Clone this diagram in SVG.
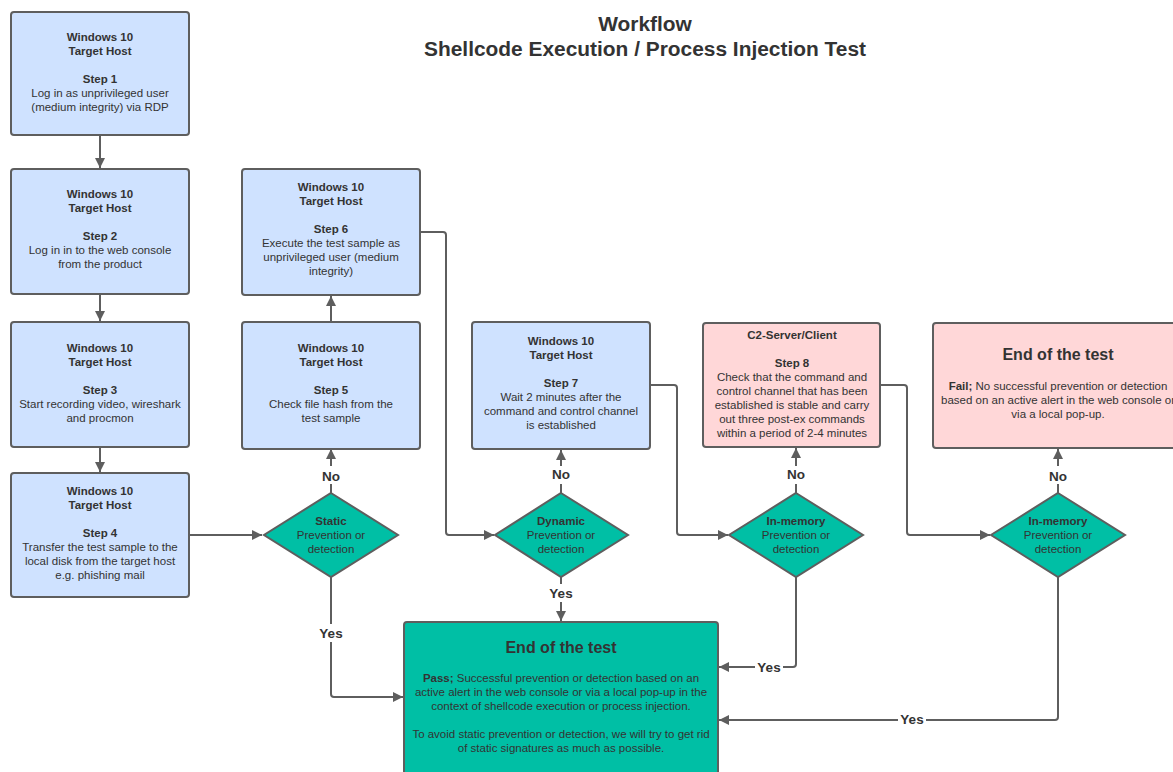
<svg xmlns="http://www.w3.org/2000/svg" width="1173" height="772" viewBox="0 0 1173 772">
<defs>
<marker id="arr" viewBox="0 0 10 10" refX="10" refY="5" markerWidth="10" markerHeight="10" markerUnits="userSpaceOnUse" orient="auto"><path d="M0,0 L10,5 L0,10 z" fill="#5e5e5e"/></marker>
<style>
text{font-family:"Liberation Sans",Arial,sans-serif;fill:#333;text-anchor:middle;font-size:11.5px}
.b{font-weight:bold}
.blue{fill:#cfe2ff;stroke:#5e5e5e;stroke-width:2}
.pink{fill:#ffd7d8;stroke:#5e5e5e;stroke-width:2}
.teal{fill:#00bfa5;stroke:#5e5e5e;stroke-width:2}
.c{fill:none;stroke:#5e5e5e;stroke-width:2;marker-end:url(#arr)}
.lbl{font-weight:bold;font-size:13.5px}
.big{font-weight:bold;font-size:16px}
.title{font-weight:bold;font-size:20.9px}
</style>
</defs>
<rect width="1173" height="772" fill="#fff"/>
<g id="title"><text class="title" x="645" y="31">Workflow</text><text class="title" x="645" y="56">Shellcode Execution / Process Injection Test</text></g>

<g id="connectors">
<path class="c" d="M100,135 V168"/>
<path class="c" d="M100,294 V321"/>
<path class="c" d="M100,447 V472"/>
<path class="c" d="M189,535 H262"/>
<path class="c" d="M331,493 V449"/>
<path class="c" d="M331,322 V296"/>
<path class="c" d="M420,232 H443 Q446,232 446,235 V532 Q446,535 449,535 H494"/>
<path class="c" d="M561,493 V450"/>
<path class="c" d="M650,385 H674 Q677,385 677,388 V532 Q677,535 680,535 H728"/>
<path class="c" d="M796,493 V448"/>
<path class="c" d="M880,385 H904 Q907,385 907,388 V532 Q907,535 910,535 H990"/>
<path class="c" d="M1058,493 V449"/>
<path class="c" d="M331,577 V694 Q331,697 334,697 H403"/>
<path class="c" d="M561,577 V621"/>
<path class="c" d="M796,577 V664 Q796,667 793,667 H719"/>
<path class="c" d="M1058,577 V717 Q1058,720 1055,720 H719"/>
<g class="labels">
<rect x="318" y="466" width="26" height="18" fill="#fff"/><text class="lbl" x="331" y="481">No</text>
<rect x="548" y="466" width="26" height="18" fill="#fff"/><text class="lbl" x="561" y="479">No</text>
<rect x="783" y="466" width="26" height="18" fill="#fff"/><text class="lbl" x="796" y="479">No</text>
<rect x="1045" y="466" width="26" height="18" fill="#fff"/><text class="lbl" x="1058" y="481">No</text>
<rect x="316" y="624" width="30" height="18" fill="#fff"/><text class="lbl" x="331" y="638">Yes</text>
<rect x="546" y="584" width="30" height="18" fill="#fff"/><text class="lbl" x="561" y="598">Yes</text>
<rect x="755" y="658" width="28" height="18" fill="#fff"/><text class="lbl" x="769" y="672">Yes</text>
<rect x="898" y="711" width="28" height="18" fill="#fff"/><text class="lbl" x="912" y="724">Yes</text>
</g>
</g>

<g id="step1"><rect class="blue" x="11" y="12" width="178" height="123" rx="3"/>
<text class="b" x="100" y="41">Windows 10</text><text class="b" x="100" y="55">Target Host</text>
<text class="b" x="100" y="83">Step 1</text><text x="100" y="97">Log in as unprivileged user</text><text x="100" y="111">(medium integrity) via RDP</text></g>

<g id="step2"><rect class="blue" x="11" y="169" width="178" height="125" rx="3"/>
<text class="b" x="100" y="198">Windows 10</text><text class="b" x="100" y="212">Target Host</text>
<text class="b" x="100" y="240">Step 2</text><text x="100" y="254">Log in in to the web console</text><text x="100" y="268">from the product</text></g>

<g id="step3"><rect class="blue" x="11" y="322" width="178" height="125" rx="3"/>
<text class="b" x="100" y="352">Windows 10</text><text class="b" x="100" y="366">Target Host</text>
<text class="b" x="100" y="394">Step 3</text><text x="100" y="408">Start recording video, wireshark</text><text x="100" y="422">and procmon</text></g>

<g id="step4"><rect class="blue" x="11" y="473" width="178" height="124" rx="3"/>
<text class="b" x="100" y="495">Windows 10</text><text class="b" x="100" y="509">Target Host</text>
<text class="b" x="100" y="537">Step 4</text><text x="100" y="551">Transfer the test sample to the</text><text x="100" y="565">local disk from the target host</text><text x="100" y="579">e.g. phishing mail</text></g>

<g id="step6"><rect class="blue" x="242" y="169" width="178" height="126" rx="3"/>
<text class="b" x="331" y="191">Windows 10</text><text class="b" x="331" y="205">Target Host</text>
<text class="b" x="331" y="233">Step 6</text><text x="331" y="247">Execute the test sample as</text><text x="331" y="261">unprivileged user (medium</text><text x="331" y="275">integrity)</text></g>

<g id="step5"><rect class="blue" x="242" y="322" width="178" height="127" rx="3"/>
<text class="b" x="331" y="352">Windows 10</text><text class="b" x="331" y="366">Target Host</text>
<text class="b" x="331" y="394">Step 5</text><text x="331" y="408">Check file hash from the</text><text x="331" y="422">test sample</text></g>

<g id="step7"><rect class="blue" x="472" y="322" width="178" height="127" rx="3"/>
<text class="b" x="561" y="345">Windows 10</text><text class="b" x="561" y="359">Target Host</text>
<text class="b" x="561" y="387">Step 7</text><text x="561" y="401">Wait 2 minutes after the</text><text x="561" y="415">command and control channel</text><text x="561" y="429">is established</text></g>

<g id="step8"><rect class="pink" x="703" y="323" width="177" height="124" rx="3"/>
<text class="b" x="792" y="339">C2-Server/Client</text>
<text class="b" x="792" y="367">Step 8</text><text x="792" y="381">Check that the command and</text><text x="792" y="395">control channel that has been</text><text x="792" y="409">established is stable and carry</text><text x="792" y="423">out three post-ex commands</text><text x="792" y="437">within a period of 2-4 minutes</text></g>

<g id="fail"><rect class="pink" x="933" y="323" width="256" height="125" rx="3"/>
<text class="big" x="1058" y="360">End of the test</text>
<text x="1058" y="390"><tspan class="b">Fail;</tspan> No successful prevention or detection</text>
<text x="1058" y="404">based on an active alert in the web console or</text>
<text x="1058" y="418">via a local pop-up.</text></g>

<g id="pass"><rect class="teal" x="404" y="622" width="314" height="160" rx="3"/>
<text class="big" x="561" y="653">End of the test</text>
<text x="561" y="682"><tspan class="b">Pass;</tspan> Successful prevention or detection based on an</text>
<text x="561" y="696">active alert in the web console or via a local pop-up in the</text>
<text x="561" y="710">context of shellcode execution or process injection.</text>
<text x="561" y="738">To avoid static prevention or detection, we will try to get rid</text>
<text x="561" y="752">of static signatures as much as possible.</text></g>

<g id="d-static"><path class="teal" d="M331,493 L398,535 L331,577 L264,535 z"/>
<text class="b" x="331" y="525">Static</text><text x="331" y="539">Prevention or</text><text x="331" y="553">detection</text></g>

<g id="d-dynamic"><path class="teal" d="M561,493 L628,535 L561,577 L495,535 z"/>
<text class="b" x="561" y="525">Dynamic</text><text x="561" y="539">Prevention or</text><text x="561" y="553">detection</text></g>

<g id="d-inmem1"><path class="teal" d="M796,493 L863,535 L796,577 L729,535 z"/>
<text class="b" x="796" y="525">In-memory</text><text x="796" y="539">Prevention or</text><text x="796" y="553">detection</text></g>

<g id="d-inmem2"><path class="teal" d="M1058,493 L1125,535 L1058,577 L991,535 z"/>
<text class="b" x="1058" y="525">In-memory</text><text x="1058" y="539">Prevention or</text><text x="1058" y="553">detection</text></g>
</svg>
